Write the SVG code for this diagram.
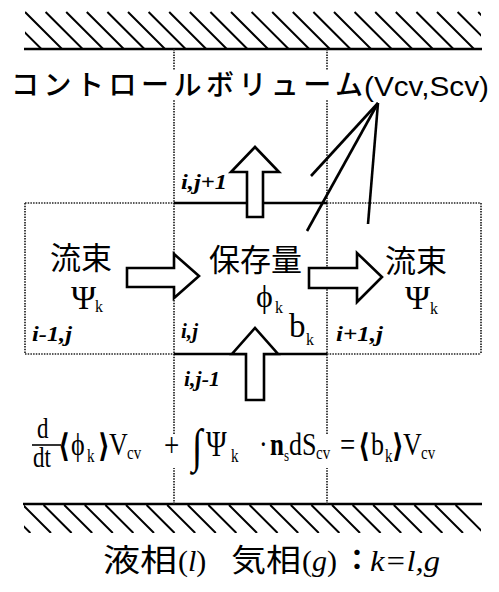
<svg xmlns="http://www.w3.org/2000/svg" width="499" height="592" viewBox="0 0 499 592">
<defs>
<style>
.wall{stroke:#000;stroke-width:2.5;fill:none}
.hatch{stroke:#000;stroke-width:2;fill:none}
.dot{stroke:#222;stroke-width:1.7;stroke-dasharray:1.5 1.2;fill:none}
.solid{stroke:#000;stroke-width:2.4;fill:none}
.arrow{stroke:#000;stroke-width:2.6;fill:#fff;stroke-linejoin:miter}
.lead{stroke:#000;stroke-width:2.6;fill:none}
.jp{font-family:"Noto Sans CJK JP","Noto Sans",sans-serif;fill:#000}
.lat{font-family:"Liberation Sans",Arial,sans-serif;fill:#000}
.ser{font-family:"Liberation Serif","DejaVu Serif",serif;fill:#000}
.it{font-family:"Liberation Serif","DejaVu Serif",serif;font-style:italic;font-weight:bold;fill:#000}
</style>
<clipPath id="topclip"><rect x="25" y="10" width="456" height="39"/></clipPath>
<clipPath id="botclip"><rect x="24" y="504" width="457" height="29"/></clipPath>
</defs>

<g id="top-wall">
<g clip-path="url(#topclip)" class="hatch">
<path d="M4.4,12 l37,37 M25,12 l37,37 M45.6,12 l37,37 M66.2,12 l37,37 M86.8,12 l37,37 M107.4,12 l37,37 M128,12 l37,37 M148.6,12 l37,37 M169.2,12 l37,37 M189.8,12 l37,37 M210.4,12 l37,37 M231,12 l37,37 M251.6,12 l37,37 M272.2,12 l37,37 M292.8,12 l37,37 M313.4,12 l37,37 M334,12 l37,37 M354.6,12 l37,37 M375.2,12 l37,37 M395.8,12 l37,37 M416.4,12 l37,37 M437,12 l37,37 M457.6,12 l37,37 M478.2,12 l37,37"/>
</g>
<line class="wall" x1="24" y1="49" x2="482" y2="49"/>
</g>

<g id="bottom-wall">
<g clip-path="url(#botclip)" class="hatch">
<path d="M2.4,505 l28,28 M23,505 l28,28 M43.6,505 l28,28 M64.2,505 l28,28 M84.8,505 l28,28 M105.4,505 l28,28 M126,505 l28,28 M146.6,505 l28,28 M167.2,505 l28,28 M187.8,505 l28,28 M208.4,505 l28,28 M229,505 l28,28 M249.6,505 l28,28 M270.2,505 l28,28 M290.8,505 l28,28 M311.4,505 l28,28 M332,505 l28,28 M352.6,505 l28,28 M373.2,505 l28,28 M393.8,505 l28,28 M414.4,505 l28,28 M435,505 l28,28 M455.6,505 l28,28"/>
</g>
<line class="wall" x1="23" y1="504" x2="482" y2="504"/>
</g>

<g id="grid">
<line class="dot" x1="174" y1="49" x2="174" y2="504"/>
<line class="dot" x1="327" y1="49" x2="327" y2="504"/>
<line class="dot" x1="25" y1="203" x2="174" y2="203"/>
<line class="dot" x1="327" y1="203" x2="481" y2="203"/>
<line class="dot" x1="25" y1="354" x2="174" y2="354"/>
<line class="dot" x1="327" y1="354" x2="481" y2="354"/>
<line class="dot" x1="25" y1="203" x2="25" y2="354"/>
<line class="dot" x1="481" y1="203" x2="481" y2="354"/>
<line class="solid" x1="174" y1="203" x2="327" y2="203"/>
<line class="solid" x1="174" y1="354" x2="327" y2="354"/>
</g>

<g id="title">
<rect x="10" y="70" width="482" height="29" fill="#fff"/>
<text class="jp" x="11" y="95" font-size="28" font-weight="500" textLength="352" lengthAdjust="spacing">コントロールボリューム</text>
<text class="lat" x="364" y="96" font-size="27" textLength="125" lengthAdjust="spacingAndGlyphs">(Vcv,Scv)</text>
</g>

<g id="connectors">
<polygon class="arrow" points="247,217 247,172 231,172 255,147 279,172 263,172 263,217"/>
<polygon class="arrow" points="246,400 246,354 232,354 255,328 278,354 264,354 264,400"/>
<polygon class="arrow" points="127,268 174,268 174,254 199,276 174,298 174,287 127,287"/>
<polygon class="arrow" points="309,268 357,268 357,253 382,277 357,302 357,288 309,288"/>
<line class="lead" x1="378" y1="103" x2="311" y2="176"/>
<line class="lead" x1="378" y1="103" x2="307" y2="231"/>
<line class="lead" x1="378" y1="103" x2="368" y2="224"/>
</g>

<g id="cell-left">
<text class="jp" x="50" y="269" font-size="31">流束</text>
<text class="ser" x="71" y="309" font-size="34">Ψ</text>
<text class="ser" x="95" y="312" font-size="16">k</text>
<text class="it" x="32" y="341" font-size="20" textLength="40" lengthAdjust="spacingAndGlyphs">i-1,j</text>
</g>

<g id="cell-center">
<text class="jp" x="209" y="271" font-size="31">保存量</text>
<text class="ser" x="256" y="307" font-size="32">ϕ</text>
<text class="ser" x="275" y="313" font-size="16">k</text>
<text class="ser" x="289" y="337" font-size="33">b</text>
<text class="ser" x="306" y="345" font-size="16">k</text>
<text class="it" x="181" y="338" font-size="20" textLength="17" lengthAdjust="spacingAndGlyphs">i,j</text>
<text class="it" x="181" y="189" font-size="20" textLength="46" lengthAdjust="spacingAndGlyphs">i,j+1</text>
<text class="it" x="184" y="386" font-size="20" textLength="36" lengthAdjust="spacingAndGlyphs">i,j-1</text>
</g>

<g id="cell-right">
<text class="jp" x="385" y="272" font-size="31">流束</text>
<text class="ser" x="405" y="309" font-size="34">Ψ</text>
<text class="ser" x="430" y="314" font-size="16">k</text>
<text class="it" x="336" y="341" font-size="20" textLength="47" lengthAdjust="spacingAndGlyphs">i+1,j</text>
</g>

<g id="equation">
<rect x="30" y="434" width="412" height="34" fill="#fff"/>
<g transform="matrix(1 0 0 1.25 0 -113.75)">
<text class="ser" x="37" y="441.5" font-size="23">d</text>
<text class="ser" x="33" y="465" font-size="23">dt</text>
<text class="ser" x="58" y="457" font-size="26" font-weight="bold">⟨</text>
<text class="ser" x="71" y="455" font-size="26">ϕ</text>
<text class="ser" x="87" y="460.6" font-size="15">k</text>
<text class="ser" x="98" y="457" font-size="26" font-weight="bold">⟩</text>
<text class="ser" x="109" y="455" font-size="26">V</text>
<text class="ser" x="127" y="458.2" font-size="15">cv</text>
<text class="ser" x="164" y="456" font-size="27">+</text>
<text class="ser" x="192" y="461" font-size="38">∫</text>
<text class="ser" x="206" y="456" font-size="28">Ψ</text>
<text class="ser" x="231" y="460.6" font-size="15">k</text>
<text class="ser" x="259" y="455" font-size="26">·</text>
<text class="ser" x="270" y="455" font-size="25" font-weight="bold">n</text>
<text class="ser" x="284" y="459.8" font-size="13">s</text>
<text class="ser" x="289" y="455" font-size="26">dS</text>
<text class="ser" x="316" y="458.6" font-size="15">cv</text>
<text class="ser" x="340" y="456" font-size="27">=</text>
<text class="ser" x="358" y="457" font-size="26" font-weight="bold">⟨</text>
<text class="ser" x="371" y="455" font-size="26">b</text>
<text class="ser" x="385" y="460.6" font-size="15">k</text>
<text class="ser" x="392" y="457" font-size="26" font-weight="bold">⟩</text>
<text class="ser" x="403" y="455" font-size="26">V</text>
<text class="ser" x="421" y="458.2" font-size="15">cv</text>
</g>
<line x1="32" y1="445" x2="61" y2="445" stroke="#000" stroke-width="1.6"/>
</g>

<g id="phases">
<text class="jp" x="103" y="571" font-size="31" textLength="74" lengthAdjust="spacingAndGlyphs">液相</text>
<text class="ser" x="178" y="571" font-size="30">(<tspan font-style="italic">l</tspan>)</text>
<text class="jp" x="231" y="571" font-size="31" textLength="70" lengthAdjust="spacingAndGlyphs">気相</text>
<text class="ser" x="302" y="571" font-size="30">(<tspan font-style="italic">g</tspan>)</text>
<text class="jp" x="343" y="570" font-size="28" font-weight="bold">：</text>
<text class="ser" x="370" y="571" font-size="29" font-style="italic" textLength="70" lengthAdjust="spacingAndGlyphs">k=l,g</text>
</g>
</svg>
